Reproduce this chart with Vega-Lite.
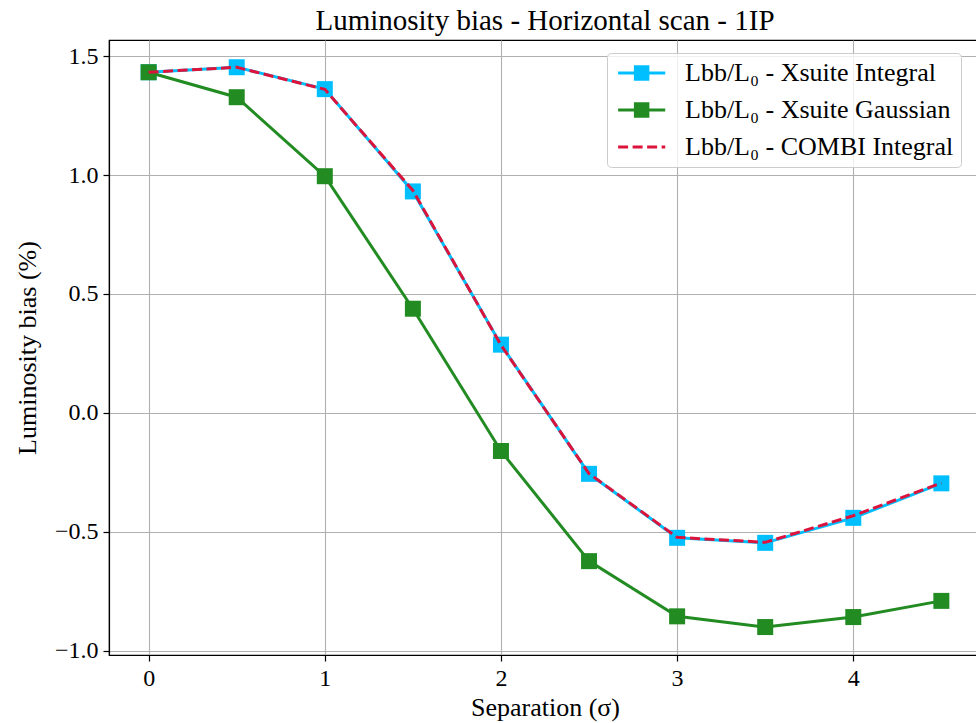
{
  "$schema": "https://vega.github.io/schema/vega-lite/v6.json",
  "width": 872,
  "height": 615,
  "autosize": "none",
  "padding": {"left": 109, "top": 40, "right": 0, "bottom": 68},
  "background": "white",
  "config": {
    "font": "Liberation Serif",
    "view": {"stroke": "black", "strokeWidth": 1.2},
    "axis": {
      "labelFont": "Liberation Serif",
      "titleFont": "Liberation Serif",
      "labelFontSize": 24,
      "titleFontSize": 26,
      "titleFontWeight": "normal",
      "labelColor": "black",
      "titleColor": "black",
      "domainColor": "black",
      "domainWidth": 1.2,
      "tickColor": "black",
      "tickWidth": 1.2,
      "tickSize": 6,
      "gridColor": "#b0b0b0",
      "gridWidth": 1.1,
      "gridOpacity": 1
    }
  },
  "title": {
    "text": "Luminosity bias - Horizontal scan - 1IP",
    "font": "Liberation Serif",
    "fontSize": 29,
    "fontWeight": "normal",
    "color": "black",
    "anchor": "middle",
    "offset": 4
  },
  "data": {
    "values": [
      {"sep": 0, "bias": 1.432, "series": "Lbb/L₀ - Xsuite Integral"},
      {"sep": 0.5, "bias": 1.453, "series": "Lbb/L₀ - Xsuite Integral"},
      {"sep": 1, "bias": 1.361, "series": "Lbb/L₀ - Xsuite Integral"},
      {"sep": 1.5, "bias": 0.931, "series": "Lbb/L₀ - Xsuite Integral"},
      {"sep": 2, "bias": 0.287, "series": "Lbb/L₀ - Xsuite Integral"},
      {"sep": 2.5, "bias": -0.256, "series": "Lbb/L₀ - Xsuite Integral"},
      {"sep": 3, "bias": -0.525, "series": "Lbb/L₀ - Xsuite Integral"},
      {"sep": 3.5, "bias": -0.546, "series": "Lbb/L₀ - Xsuite Integral"},
      {"sep": 4, "bias": -0.441, "series": "Lbb/L₀ - Xsuite Integral"},
      {"sep": 4.5, "bias": -0.296, "series": "Lbb/L₀ - Xsuite Integral"},
      {"sep": 0, "bias": 1.432, "series": "Lbb/L₀ - Xsuite Gaussian"},
      {"sep": 0.5, "bias": 1.327, "series": "Lbb/L₀ - Xsuite Gaussian"},
      {"sep": 1, "bias": 0.995, "series": "Lbb/L₀ - Xsuite Gaussian"},
      {"sep": 1.5, "bias": 0.438, "series": "Lbb/L₀ - Xsuite Gaussian"},
      {"sep": 2, "bias": -0.16, "series": "Lbb/L₀ - Xsuite Gaussian"},
      {"sep": 2.5, "bias": -0.623, "series": "Lbb/L₀ - Xsuite Gaussian"},
      {"sep": 3, "bias": -0.855, "series": "Lbb/L₀ - Xsuite Gaussian"},
      {"sep": 3.5, "bias": -0.9, "series": "Lbb/L₀ - Xsuite Gaussian"},
      {"sep": 4, "bias": -0.858, "series": "Lbb/L₀ - Xsuite Gaussian"},
      {"sep": 4.5, "bias": -0.79, "series": "Lbb/L₀ - Xsuite Gaussian"},
      {"sep": 0, "bias": 1.432, "series": "Lbb/L₀ - COMBI Integral"},
      {"sep": 0.5, "bias": 1.453, "series": "Lbb/L₀ - COMBI Integral"},
      {"sep": 1, "bias": 1.36, "series": "Lbb/L₀ - COMBI Integral"},
      {"sep": 1.5, "bias": 0.935, "series": "Lbb/L₀ - COMBI Integral"},
      {"sep": 2, "bias": 0.285, "series": "Lbb/L₀ - COMBI Integral"},
      {"sep": 2.5, "bias": -0.255, "series": "Lbb/L₀ - COMBI Integral"},
      {"sep": 3, "bias": -0.523, "series": "Lbb/L₀ - COMBI Integral"},
      {"sep": 3.5, "bias": -0.544, "series": "Lbb/L₀ - COMBI Integral"},
      {"sep": 4, "bias": -0.432, "series": "Lbb/L₀ - COMBI Integral"},
      {"sep": 4.5, "bias": -0.294, "series": "Lbb/L₀ - COMBI Integral"}
    ]
  },
  "encoding": {
    "x": {
      "field": "sep",
      "type": "quantitative",
      "scale": {"domain": [-0.225, 4.725], "nice": false, "zero": false},
      "axis": {"title": "Separation (σ)", "values": [0, 1, 2, 3, 4], "format": "d", "labelPadding": 5, "titlePadding": 4, "labelFlush": false}
    },
    "y": {
      "field": "bias",
      "type": "quantitative",
      "scale": {"domain": [-1.0175, 1.5675], "nice": false, "zero": false},
      "axis": {"title": "Luminosity bias (%)", "values": [-1, -0.5, 0, 0.5, 1, 1.5], "format": ".1f", "labelPadding": 5, "titlePadding": 14, "labelFlush": false}
    },
    "color": {
      "field": "series",
      "type": "nominal",
      "scale": {
        "domain": ["Lbb/L₀ - Xsuite Integral", "Lbb/L₀ - Xsuite Gaussian", "Lbb/L₀ - COMBI Integral"],
        "range": ["#00bfff", "#228b22", "#dc143c"]
      },
      "legend": {
        "title": null,
        "orient": "none",
        "legendX": 498,
        "legendY": 13,
        "padding": 7,
        "cornerRadius": 4,
        "strokeColor": "#cccccc",
        "fillColor": "rgba(255,255,255,0.8)",
        "labelFont": "Liberation Serif",
        "labelFontSize": 26,
        "labelColor": "black",
        "labelLimit": 400,
        "labelOffset": 45,
        "rowPadding": 11,
        "symbolSize": 256,
        "encode": {
          "symbols": {
            "update": {
              "shape": {"signal": "indexof(datum.value, 'COMBI') >= 0 ? 'M-1.11,0H4.78' : 'M-1.11,0H4.78M1.05,-0.78H2.61V0.78H1.05Z'"},
              "strokeDash": {"signal": "indexof(datum.value, 'COMBI') >= 0 ? [10, 4.5] : [1, 0]"},
              "fill": {"signal": "indexof(datum.value, 'COMBI') >= 0 ? 'transparent' : scale('color', datum.value)"},
              "stroke": {"signal": "scale('color', datum.value)"},
              "strokeWidth": {"value": 3},
              "size": {"value": 256},
              "opacity": {"value": 1}
            }
          }
        }
      }
    }
  },
  "layer": [
    {
      "transform": [{"filter": "indexof(datum.series, 'Xsuite Integral') >= 0"}],
      "mark": {"type": "line", "strokeWidth": 3}
    },
    {
      "transform": [{"filter": "indexof(datum.series, 'Xsuite Integral') >= 0"}],
      "mark": {"type": "point", "shape": "square", "filled": true, "size": 256, "opacity": 1}
    },
    {
      "transform": [{"filter": "indexof(datum.series, 'Xsuite Gaussian') >= 0"}],
      "mark": {"type": "line", "strokeWidth": 3}
    },
    {
      "transform": [{"filter": "indexof(datum.series, 'Xsuite Gaussian') >= 0"}],
      "mark": {"type": "point", "shape": "square", "filled": true, "size": 256, "opacity": 1}
    },
    {
      "transform": [{"filter": "indexof(datum.series, 'COMBI') >= 0"}],
      "mark": {"type": "line", "strokeWidth": 3, "strokeDash": [10, 4.5]}
    },
    {
      "data": {"values": [{"level": 1}]},
      "mark": {"type": "rule", "color": "black", "strokeWidth": 2.2, "strokeDash": [9, 4]},
      "encoding": {"y": {"field": "level", "type": "quantitative"}, "color": {"value": "black"}}
    }
  ]
}
